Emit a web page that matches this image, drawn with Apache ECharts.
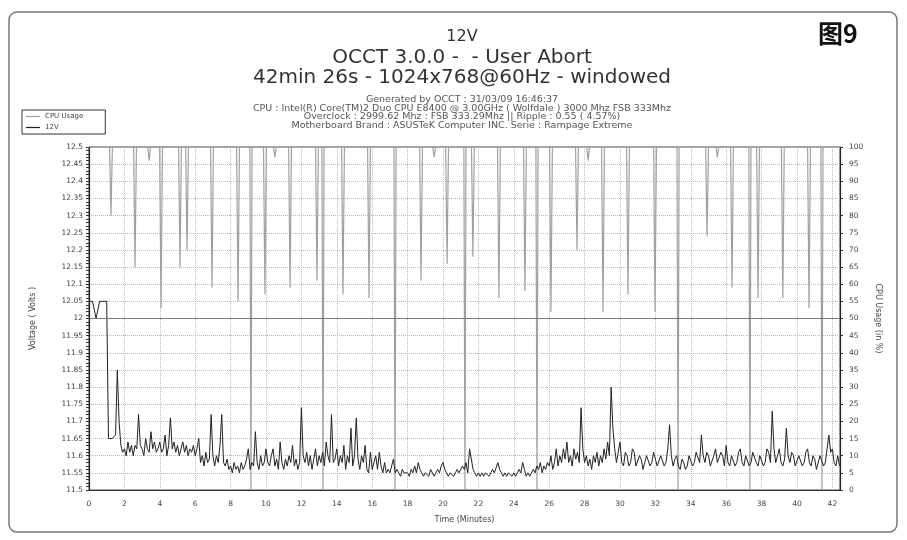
<!DOCTYPE html>
<html><head><meta charset="utf-8">
<script src="https://cdn.jsdelivr.net/npm/echarts@6/dist/echarts.min.js"></script>
<style>html,body{margin:0;padding:0;background:#fff}#c{width:907px;height:540px}</style>
</head><body><div id="c"></div>
<script>
// ---- text ----
const chartTitle = '12V';
const subTitle1 = 'OCCT 3.0.0 -  - User Abort';
const subTitle2 = '42min 26s - 1024x768@60Hz - windowed';
const infoLines = [
  'Generated by OCCT : 31/03/09 16:46:37',
  'CPU : Intel(R) Core(TM)2 Duo CPU E8400 @ 3.00GHz ( Wolfdale ) 3000 Mhz FSB 333Mhz',
  'Overclock : 2999.62 Mhz : FSB 333.29Mhz || Ripple : 0.55 ( 4.57%)',
  'Motherboard Brand : ASUSTeK Computer INC. Serie : Rampage Extreme'
];
const figLabel = '图9';
const seriesNames = ['CPU Usage', '12V'];

// ---- axes ----
const timeMax = 42.43;          // 42min 26s
const timeInterval = 2;
const voltMin = 11.5, voltMax = 12.5, voltInterval = 0.05;
const cpuMin = 0, cpuMax = 100, cpuInterval = 5;
const refLevel = 12.0;

// ---- 12V samples, one every 0.1 minute (one row = 2 minutes) ----
const voltStep = 0.1;
const voltValues = [
  12.05,12.05,12.05,12.05,12.00,12.00,12.05,12.05,12.05,12.05, 12.05,11.65,11.65,11.65,11.65,11.66,11.85,11.70,11.63,11.61,
  11.62,11.60,11.64,11.61,11.63,11.60,11.63,11.62,11.72,11.63, 11.62,11.60,11.65,11.62,11.61,11.67,11.62,11.64,11.61,11.62,
  11.64,11.61,11.62,11.66,11.60,11.63,11.71,11.62,11.64,11.61, 11.63,11.60,11.62,11.64,11.61,11.63,11.60,11.62,11.61,11.63,
  11.60,11.62,11.65,11.58,11.60,11.57,11.61,11.58,11.59,11.72, 11.60,11.57,11.60,11.58,11.63,11.72,11.58,11.57,11.59,11.56,
  11.57,11.55,11.58,11.56,11.57,11.55,11.58,11.56,11.57,11.59, 11.62,11.56,11.58,11.57,11.67,11.58,11.56,11.60,11.57,11.58,
  11.62,11.58,11.57,11.60,11.62,11.57,11.59,11.56,11.64,11.58, 11.56,11.59,11.57,11.60,11.58,11.63,11.57,11.59,11.56,11.58,
  11.74,11.60,11.58,11.61,11.57,11.60,11.56,11.59,11.62,11.57, 11.60,11.58,11.61,11.57,11.64,11.60,11.58,11.72,11.58,11.59,
  11.62,11.57,11.60,11.58,11.63,11.56,11.60,11.58,11.68,11.57, 11.60,11.71,11.59,11.56,11.60,11.58,11.63,11.56,11.55,11.61,
  11.56,11.58,11.60,11.56,11.61,11.57,11.55,11.58,11.55,11.56, 11.55,11.57,11.59,11.55,11.56,11.55,11.54,11.56,11.55,11.55,
  11.55,11.54,11.56,11.55,11.57,11.55,11.58,11.56,11.55,11.54, 11.55,11.55,11.54,11.56,11.55,11.54,11.55,11.56,11.55,11.57,
  11.58,11.56,11.55,11.54,11.55,11.55,11.54,11.55,11.56,11.55, 11.55,11.57,11.56,11.58,11.55,11.62,11.59,11.56,11.55,11.54,
  11.55,11.54,11.55,11.54,11.55,11.55,11.54,11.55,11.56,11.55, 11.55,11.58,11.56,11.55,11.54,11.55,11.54,11.55,11.55,11.54,
  11.55,11.54,11.55,11.56,11.55,11.58,11.56,11.54,11.55,11.54, 11.55,11.56,11.55,11.57,11.56,11.58,11.55,11.57,11.56,11.58,
  11.57,11.60,11.56,11.58,11.62,11.57,11.60,11.58,11.62,11.59, 11.64,11.58,11.60,11.57,11.62,11.59,11.61,11.58,11.74,11.62,
  11.58,11.60,11.57,11.59,11.56,11.60,11.58,11.61,11.57,11.60, 11.58,11.62,11.59,11.64,11.60,11.80,11.68,11.62,11.58,11.61,
  11.64,11.58,11.57,11.61,11.60,11.57,11.58,11.62,11.61,11.57, 11.57,11.60,11.59,11.56,11.56,11.60,11.60,11.57,11.58,11.61,
  11.61,11.57,11.57,11.60,11.60,11.57,11.58,11.62,11.69,11.60, 11.57,11.59,11.60,11.57,11.56,11.59,11.58,11.56,11.57,11.60,
  11.60,11.57,11.58,11.61,11.61,11.58,11.66,11.60,11.58,11.61, 11.60,11.57,11.57,11.60,11.62,11.58,11.58,11.61,11.60,11.57,
  11.63,11.58,11.57,11.60,11.60,11.57,11.58,11.61,11.62,11.58, 11.57,11.60,11.60,11.57,11.58,11.61,11.61,11.58,11.57,11.60,
  11.60,11.57,11.58,11.62,11.61,11.58,11.73,11.62,11.58,11.60, 11.62,11.58,11.57,11.59,11.68,11.60,11.58,11.61,11.60,11.57,
  11.57,11.60,11.60,11.57,11.58,11.61,11.62,11.58,11.57,11.60, 11.59,11.56,11.56,11.60,11.60,11.57,11.58,11.62,11.66,11.61,
  11.62,11.58,11.57,11.60,11.57
];

// ---- CPU usage (%) ----
const cpuTime = [
  0,
  1.16, 1.24, 1.32,   2.52, 2.60, 2.68,   3.32, 3.40, 3.48,   3.99, 4.07, 4.15,
  5.06, 5.14, 5.22,   5.46, 5.54, 5.62,   6.87, 6.95, 7.03,   8.34, 8.42, 8.50,
  9.09, 9.15, 9.21,   9.86, 9.94, 10.02,  10.42, 10.50, 10.58, 11.28, 11.36, 11.44,
  12.80, 12.88, 12.96, 13.16, 13.22, 13.28, 14.27, 14.35, 14.43, 15.74, 15.82, 15.90,
  17.23, 17.29, 17.35, 18.68, 18.76, 18.84, 19.42, 19.50, 19.58, 20.15, 20.23, 20.31,
  21.18, 21.24, 21.30, 21.61, 21.69, 21.77, 23.08, 23.16, 23.24, 24.55, 24.63, 24.71,
  25.25, 25.31, 25.37, 26.02, 26.10, 26.18, 27.49, 27.57, 27.65, 28.12, 28.20, 28.28,
  28.96, 29.04, 29.12, 30.37, 30.45, 30.53, 31.90, 31.98, 32.06, 33.22, 33.28, 33.34,
  34.84, 34.92, 35.00, 35.42, 35.50, 35.58, 36.25, 36.33, 36.41, 37.28, 37.34, 37.40,
  37.72, 37.80, 37.88, 39.12, 39.20, 39.28, 40.60, 40.68, 40.76, 41.35, 41.41, 41.47,
  42.43
];
const cpuValue = [
  100,
  100, 80, 100,   100, 65, 100,   100, 96, 100,   100, 53, 100,
  100, 65, 100,   100, 70, 100,   100, 59, 100,   100, 55, 100,
  100, 0, 100,    100, 57, 100,   100, 97, 100,   100, 59, 100,
  100, 61, 100,   100, 0, 100,    100, 57, 100,   100, 56, 100,
  100, 0, 100,    100, 61, 100,   100, 97, 100,   100, 66, 100,
  100, 0, 100,    100, 68, 100,   100, 56, 100,   100, 58, 100,
  100, 0, 100,    100, 52, 100,   100, 70, 100,   100, 96, 100,
  100, 52, 100,   100, 57, 100,   100, 52, 100,   100, 0, 100,
  100, 74, 100,   100, 97, 100,   100, 59, 100,   100, 0, 100,
  100, 56, 100,   100, 56, 100,   100, 53, 100,   100, 0, 100,
  100
];

const voltData = voltValues.map((v, i) => [+(i * voltStep).toFixed(2), v]);
const cpuData = cpuTime.map((t, i) => [t, cpuValue[i]]);

const FONT = 'DejaVu Sans';
const chart = echarts.init(document.getElementById('c'), null, {renderer: 'canvas'});

const titles = [
  {text: chartTitle, top: 29, textStyle: {fontSize: 16}},
  {text: subTitle1, top: 48, textStyle: {fontSize: 20}},
  {text: subTitle2, top: 68, textStyle: {fontSize: 20}}
].concat(infoLines.map((s, i) => ({text: s, top: 95 + i * 8.5, textStyle: {fontSize: 9.5, color: '#555'}})));
titles.forEach(t => {
  t.left = 462; t.textAlign = 'center'; t.padding = 0;
  t.textStyle = Object.assign({fontFamily: FONT, fontWeight: 'normal', color: '#333'}, t.textStyle);
});
titles.push({text: figLabel, left: 818, top: 21, padding: 0,
  textStyle: {fontFamily: 'Noto Sans CJK SC', fontWeight: 'bold', fontSize: 25, color: '#111'}});

chart.setOption({
  backgroundColor: '#fff',
  animation: false,
  title: titles,
  graphic: [{type: 'rect', shape: {x: 9, y: 12, width: 888, height: 520, r: 8},
    style: {fill: 'none', stroke: '#777', lineWidth: 1.5}, silent: true}],
  legend: {
    data: [{name: seriesNames[0], icon: 'rect'}, {name: seriesNames[1], icon: 'rect'}],
    orient: 'vertical', left: 22, top: 110, itemGap: 4, itemWidth: 14, itemHeight: 1.2,
    padding: [3, 22, 3, 4], borderColor: '#333', borderWidth: 1, backgroundColor: '#fff',
    textStyle: {fontFamily: FONT, fontSize: 7, color: '#444'}
  },
  grid: {left: 89, right: 67, top: 147, bottom: 50, show: true, borderColor: '#444', borderWidth: 1, backgroundColor: 'transparent'},
  xAxis: {
    type: 'value', min: 0, max: timeMax, interval: timeInterval,
    name: 'Time (Minutes)', nameLocation: 'middle', nameGap: 26,
    nameTextStyle: {fontFamily: FONT, fontSize: 8, color: '#444'},
    axisLine: {lineStyle: {color: '#333'}},
    axisTick: {show: false},
    axisLabel: {fontFamily: FONT, fontSize: 7.5, color: '#444', margin: 10,
      formatter: v => (Math.abs(v - Math.round(v)) < 1e-6 ? String(Math.round(v)) : '')},
    splitLine: {show: true, lineStyle: {color: '#bbb', type: 'dotted'}}
  },
  yAxis: [{
    type: 'value', min: voltMin, max: voltMax, interval: voltInterval,
    name: 'Voltage ( Volts )', nameLocation: 'middle', nameGap: 52, nameRotate: 90,
    nameTextStyle: {fontFamily: FONT, fontSize: 8, color: '#444'},
    axisLine: {show: true, lineStyle: {color: '#222', width: 1.2}},
    axisTick: {show: true, length: 3, lineStyle: {color: '#333'}},
    minorTick: {show: true, splitNumber: 5, length: 3, lineStyle: {color: '#333'}},
    axisLabel: {fontFamily: FONT, fontSize: 7.5, color: '#444', margin: 6},
    splitLine: {show: true, lineStyle: {color: '#bbb', type: 'dotted'}}
  }, {
    type: 'value', min: cpuMin, max: cpuMax, interval: cpuInterval,
    name: 'CPU Usage (in %)', nameLocation: 'middle', nameGap: 30, nameRotate: -90,
    nameTextStyle: {fontFamily: FONT, fontSize: 8, color: '#444'},
    axisLine: {show: true, lineStyle: {color: '#222', width: 1.2}},
    axisTick: {show: true, length: 3, lineStyle: {color: '#333'}},
    axisLabel: {fontFamily: FONT, fontSize: 7.5, color: '#444', margin: 9},
    splitLine: {show: false}
  }],
  series: [{
    name: seriesNames[0], type: 'line', yAxisIndex: 1, data: cpuData,
    symbol: 'none', z: 2,
    lineStyle: {color: '#a0a0a0', width: 1.2},
    itemStyle: {color: '#a0a0a0'}
  }, {
    name: seriesNames[1], type: 'line', yAxisIndex: 0, data: voltData,
    symbol: 'none', z: 3,
    lineStyle: {color: '#222', width: 1},
    itemStyle: {color: '#222'},
    markLine: {silent: true, symbol: 'none', label: {show: false},
      lineStyle: {color: '#777', type: 'solid', width: 1},
      data: [{yAxis: refLevel}]}
  }]
});
</script></body></html>
